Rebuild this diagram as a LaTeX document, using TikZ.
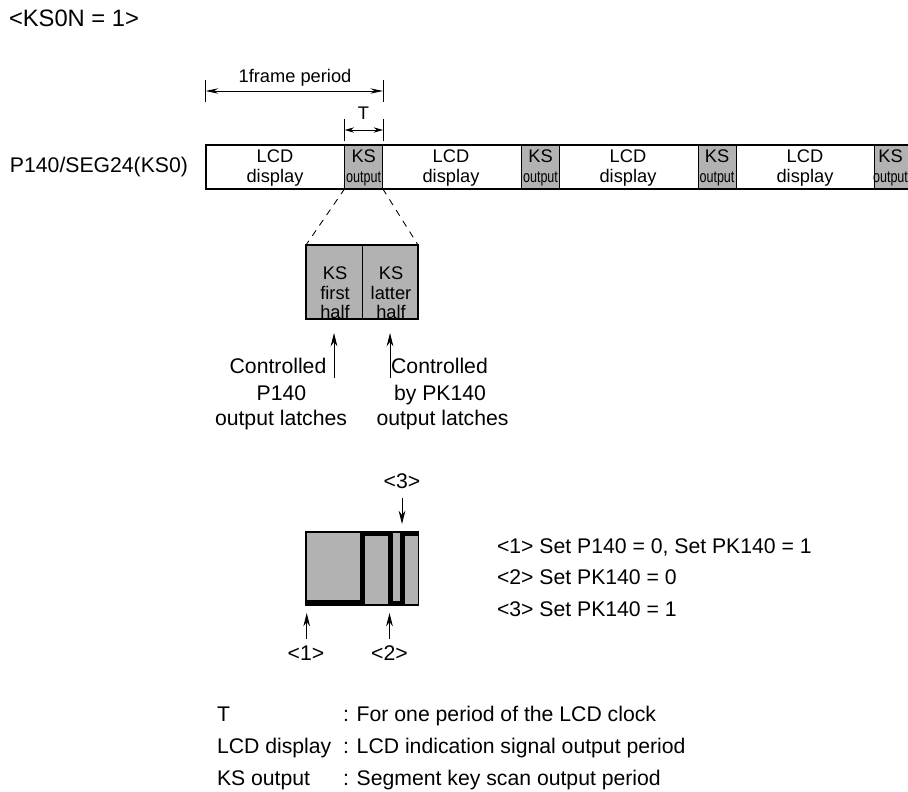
\documentclass[tikz,border=0pt]{standalone}
\usepackage{fontspec}
\setmainfont{Liberation Sans}
\newfontfamily\condfont[FakeStretch=0.76]{Liberation Sans}
\usetikzlibrary{arrows.meta}
\definecolor{ksgray}{gray}{0.70}
\newcommand{\bigtext}{\fontsize{15.9}{18}\selectfont}
\newcommand{\smalltext}{\fontsize{13.7}{16}\selectfont}
\tikzset{
  x=0.75pt,y=-0.75pt,
  every node/.style={inner sep=0pt,outer sep=0pt,font=\bigtext,text=black},
  kscell/.style={draw=black,line width=0.75pt,fill=ksgray,minimum width=28.5pt,minimum height=32.5pt,anchor=center},
  dimline/.style={line width=0.65pt,{Stealth[length=9.5pt,width=4pt]}-{Stealth[length=9.5pt,width=4pt]}},
  tickline/.style={line width=0.65pt},
  uparrow/.style={line width=0.65pt,-{Stealth[length=10pt,width=5pt]}},
  lefttext/.style={anchor=base west},
  midtext/.style={anchor=base},
  celltext/.style={anchor=base,font=\smalltext},
}
\newcommand{\lcdtext}[1]{\node[celltext] at (#1,163) {LCD}; \node[celltext] at (#1,182.5) {display};}
\newcommand{\kstext}[1]{\node[celltext] at (#1,163) {KS};
  \node[anchor=base,font=\fontsize{12.4}{14}\condfont] at (#1,182.5) {output};}
\begin{document}
\begin{tikzpicture}
\useasboundingbox (0,0) rectangle (908,792);
\clip (0,0) rectangle (908,792);
\node[lefttext,font=\fontsize{17.8}{20}\selectfont] (title) at (9,26.7) {<KS0N = 1>};
\node[lefttext] (pin) at (10,172) {P140/SEG24(KS0)};

% bar
\node[kscell] (ks1) at (363.7,167) {};
\node[kscell] (ks2) at (540.5,167) {};
\node[kscell] (ks3) at (717,167) {};
\node[kscell] (ks4) at (893,167) {};
\kstext{363.7}\kstext{540.5}\kstext{717}\kstext{890.5}
\lcdtext{275}\lcdtext{451}\lcdtext{628}\lcdtext{805}
\draw[line width=1.9pt] (930,145) -- (206,145) -- (206,189) -- (930,189);

% dimension 1 frame
\coordinate (fa1) at (205.6,80); \coordinate (fa2) at (205.6,102);
\coordinate (fb1) at (383,80); \coordinate (fb2) at (383,102);
\coordinate (fl) at (205.6,91); \coordinate (fr) at (383,91);
\draw[tickline] (fa1) -- (fa2) (fb1) -- (fb2);
\draw[dimline] (fl) -- (fr);
\node[celltext] (frame) at (295,82.5) {1frame period};

% dimension T
\coordinate (ta1) at (344.7,119); \coordinate (ta2) at (344.7,141);
\coordinate (tb1) at (383,119); \coordinate (tb2) at (383,141);
\coordinate (tl) at (344.7,130); \coordinate (tr) at (383,130);
\draw[tickline] (ta1) -- (ta2) (tb1) -- (tb2);
\draw[line width=0.65pt,{Stealth[length=7pt,width=4pt]}-{Stealth[length=7pt,width=4pt]}] (tl) -- (tr);
\node[celltext] (T) at (363.5,120) {T};

% enlarged KS
\node[fill=ksgray,minimum width=84pt,minimum height=55.5pt] (big) at (362,282) {};
\node[celltext] at (335,279) {KS};
\node[celltext] at (335,299) {first};
\node[celltext] at (335,318) {half};
\node[celltext] at (391,279) {KS};
\node[celltext] at (391,299) {latter};
\node[celltext] at (391,318) {half};
\draw[line width=1.7pt] (big.north west) rectangle (big.south east);
\draw[line width=0.65pt] (big.north) -- (big.south);
\draw[line width=0.65pt,dash pattern=on 5pt off 4.5pt] (ks1.south west) -- (big.north west);
\draw[line width=0.65pt,dash pattern=on 5pt off 4.5pt] (ks1.south east) -- (big.north east);

% arrows with captions
\coordinate (c1a) at (334,378); \coordinate (c1b) at (334,333);
\coordinate (c2a) at (390,378); \coordinate (c2b) at (390,333);
\draw[uparrow] (c1a) -- (c1b);
\draw[uparrow] (c2a) -- (c2b);
\node[midtext] at (278,373) {Controlled};
\node[midtext] at (281.5,400) {P140};
\node[midtext] at (281,425) {output latches};
\node[midtext] at (439.5,373) {Controlled};
\node[midtext] at (440,400) {by PK140};
\node[midtext] at (442.5,425) {output latches};

% waveform box
\node[fill=black,minimum width=85.5pt,minimum height=56.5pt] (wave) at (362,568.5) {};
\fill[ksgray] (307,533) rectangle (359.5,599.5);
\fill[ksgray] (364.5,535.5) rectangle (388,604);
\fill[ksgray] (393,533) rectangle (400,600.5);
\fill[ksgray] (405,536) rectangle (417.5,604);

\node[midtext] (n3) at (402,488) {<3>};
\coordinate (a3a) at (402,498); \coordinate (a3b) at (402,524);
\draw[uparrow] (a3a) -- (a3b);
\coordinate (a1a) at (306.7,639); \coordinate (a1b) at (306.7,613);
\coordinate (a2a) at (389.5,639); \coordinate (a2b) at (389.5,613);
\draw[uparrow] (a1a) -- (a1b);
\draw[uparrow] (a2a) -- (a2b);
\node[midtext] (n1) at (306,660) {<1>};
\node[midtext] (n2) at (389.5,660) {<2>};

\node[lefttext] at (497,553) {<1> Set P140 = 0, Set PK140 = 1};
\node[lefttext] at (497,584.5) {<2> Set PK140 = 0};
\node[lefttext] at (497,616) {<3> Set PK140 = 1};

\node[lefttext] at (217,721) {T};
\node[lefttext] at (343,721) {: For one period of the LCD clock};
\node[lefttext] at (217,753) {LCD display};
\node[lefttext] at (343,753) {: LCD indication signal output period};
\node[lefttext] at (217,785) {KS output};
\node[lefttext] at (343,785) {: Segment key scan output period};
\end{tikzpicture}
\end{document}
